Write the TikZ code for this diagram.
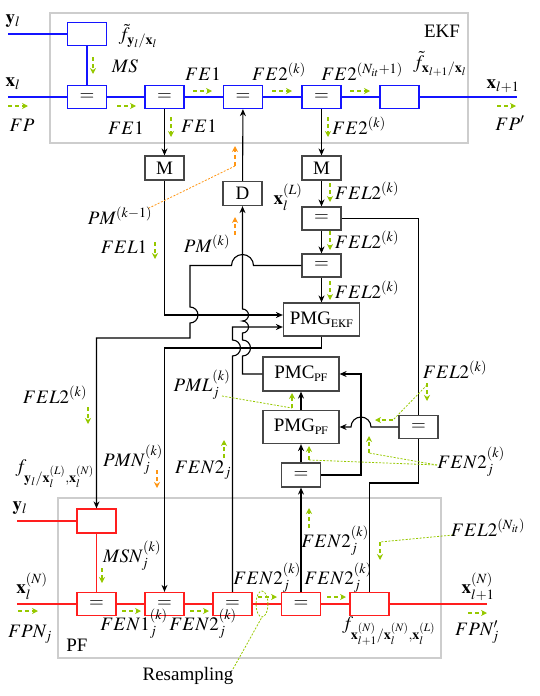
\documentclass[tikz,border=0pt]{standalone}
\usepackage{mathptmx}
\usepackage{fontspec}
\setmainfont{Liberation Serif}
\usetikzlibrary{arrows.meta}

\definecolor{msggreen}{RGB}{150,200,0}
\definecolor{msgorange}{RGB}{255,150,20}
\definecolor{framegray}{RGB}{205,205,205}
\definecolor{boxgray}{RGB}{70,70,70}
\definecolor{ekfblue}{RGB}{20,20,255}
\definecolor{pfred}{RGB}{255,30,30}

\tikzset{
  ekfbox/.style={draw=ekfblue,line width=1.3pt,minimum width=39pt,minimum height=23pt,inner sep=0pt},
  pfbox/.style={draw=pfred,line width=1.3pt,minimum width=39pt,minimum height=23pt,inner sep=0pt},
  fgbox/.style={draw=boxgray,line width=1.2pt,minimum width=39pt,minimum height=24pt,inner sep=0pt},
  pmbox/.style={draw=boxgray,line width=1.2pt,minimum width=76pt,minimum height=33pt,inner sep=0pt},
  frame/.style={draw=framegray,line width=2.8pt},
  wire/.style={line width=1.1pt},
  ekfwire/.style={draw=ekfblue,line width=1.5pt},
  pfwire/.style={draw=pfred,line width=1.5pt},
  flow/.style={wire,-{Stealth[length=7pt,width=6pt]}},
  gmsg/.style={draw=msggreen,line width=1.3pt,dash pattern=on 4pt off 3pt,-{Stealth[length=6pt,width=6pt]}},
  omsg/.style={draw=msgorange,line width=1.3pt,dash pattern=on 4pt off 3pt,-{Stealth[length=6pt,width=6pt]}},
  gdot/.style={draw=msggreen,line width=0.8pt,dash pattern=on 2pt off 1.5pt},
  odot/.style={draw=msgorange,line width=0.8pt,dash pattern=on 2pt off 1.5pt},
  lbl/.style={inner sep=0pt}
}

\begin{document}
\begin{tikzpicture}[x=1pt,y=-1pt,font=\fontsize{19}{22}\selectfont]
\useasboundingbox (0,0) rectangle (539,696);
\draw[frame] (50,13) rectangle (468,143);
\draw[frame] (58,498) rectangle (441,658);

% EKF part
\node[ekfbox] (fy) at (87,34) {};
\node[ekfbox] (e1) at (87,97) {$=$};
\node[ekfbox] (e2) at (164.5,97) {$=$};
\node[ekfbox] (e3) at (243,97) {$=$};
\node[ekfbox] (e4) at (321.5,97) {$=$};
\node[ekfbox] (fx) at (399.5,97) {};

\node[fgbox] (m1) at (164.5,168) {M};
\node[fgbox] (d) at (242.5,193.5) {D};
\node[fgbox] (m2) at (321.5,168) {M};
\node[fgbox,minimum height=23pt] (e5) at (321.5,218.5) {$=$};
\node[fgbox,minimum height=23pt] (e6) at (321.5,265.5) {$=$};
\node[pmbox] (pmgekf) at (321.5,319.5) {PMG$_{\mathrm{\scriptscriptstyle EKF}}$};
\node[fgbox,minimum height=23pt] (e7) at (418.5,427) {$=$};
\node[pmbox,minimum height=34pt] (pmcpf) at (301,374) {PMC$_{\mathrm{\scriptscriptstyle PF}}$};
\node[pmbox] (pmgpf) at (301,427) {PMG$_{\mathrm{\scriptscriptstyle PF}}$};
\node[fgbox] (e8) at (301,475) {$=$};

% PF part
\node[pfbox,minimum height=24pt] (fyn) at (96.5,521) {};
\node[pfbox] (n1) at (96.5,604) {$=$};
\node[pfbox] (n2) at (164.5,604) {$=$};
\node[pfbox] (n3) at (232.5,604) {$=$};
\node[pfbox] (n4) at (301,604) {$=$};
\node[pfbox] (fxn) at (369.5,604) {};

% variable edges
\draw[ekfwire] (8,34) -- (fy.west);
\draw[ekfwire] (fy.south) -- (e1.north);
\draw[ekfwire] (8,97) -- (e1.west);
\draw[ekfwire] (e1.east) -- (e2.west);
\draw[ekfwire] (e2.east) -- (e3.west);
\draw[ekfwire] (e3.east) -- (e4.west);
\draw[ekfwire] (e4.east) -- (fx.west);
\draw[ekfwire] (fx.east) -- (517,97);
\draw[pfwire] (17,521) -- (fyn.west);
\draw[pfwire] (fyn.south) -- (n1.north);
\draw[pfwire] (17,604) -- (n1.west);
\draw[pfwire] (n1.east) -- (n2.west);
\draw[pfwire] (n2.east) -- (n3.west);
\draw[pfwire] (n3.east) -- (n4.west);
\draw[pfwire] (n4.east) -- (fxn.west);
\draw[pfwire] (fxn.east) -- (487,604);

% message passing wires
\draw[flow] (e2) -- (m1);
\draw[flow] (d) -- (e3);
\draw[flow] (e4) -- (m2);
\draw[flow] (m2) -- (e5);
\draw[flow] (e5) -- (e6);
\draw[flow] (e6) -- (pmgekf);
\draw[flow] (m1.south) -- (164.5,315) -- ([yshift=4.5pt]pmgekf.west);
\draw[flow] (e6.west) -- (253.5,265.5) arc (0:-180:11) -- (190,265.5) -- (190,307) arc (-90:90:8) -- (190,338) -- (96.5,338) -- (fyn.north);
\draw[flow] (n3.north) -- (232.5,356) arc (90:-90:8) -- (232.5,327) -- ([yshift=-7.5pt]pmgekf.west);
\draw[flow] (pmcpf.west) -- (242.5,374) -- (242.5,356) arc (90:-90:8) -- (242.5,333) arc (90:-90:6) -- (242.5,321) arc (90:-90:6) -- (d.south);
\draw[flow] (pmgekf.south) -- (321.5,348) -- (164.5,348) -- (n2.north);
\draw[wire] (e5.east) -- (418.5,218.5) -- (e7.north);
\draw[wire] (e7.south) -- (418.5,483) -- (369.5,483) -- (fxn.north);
\draw[flow] (e7.west) -- (371,427) arc (0:-180:10) -- (pmgpf.east);
\draw[flow] (e8.east) -- (361,475) -- (361,374) -- (pmcpf.east);
\draw[flow] (n4) -- (e8);
\draw[flow] (e8) -- (pmgpf);
\draw[flow] (pmgpf) -- (pmcpf);

% forward / backward messages
\draw[gmsg] (8,106) -- (28,106);
\draw[gmsg] (93,57) -- (93,74);
\draw[gmsg] (117,106) -- (136,106);
\draw[gmsg] (171,117) -- (171,137);
\draw[gmsg] (193,91) -- (212,91);
\draw[gmsg] (272,91) -- (292,91);
\draw[gmsg] (328,117) -- (328,137);
\draw[gmsg] (350,91) -- (370,91);
\draw[gmsg] (497,106) -- (516,106);
\draw[gmsg] (155,242) -- (155,259);
\draw[gmsg] (330,183) -- (330,202);
\draw[gmsg] (330,231) -- (330,250);
\draw[gmsg] (330,281) -- (330,300);
\draw[gmsg] (88,407) -- (88,424);
\draw[gmsg] (224,458) -- (224,440);
\draw[gmsg] (427,383) -- (427,401);
\draw[gdot] (427,385) -- (393,420);
\draw[gmsg] (393,420) -- (375,420);
\draw[gdot] (437,465) -- (309,460);
\draw[gmsg] (309,460) -- (309,446);
\draw[gdot] (437,465) -- (369,453);
\draw[gmsg] (369,453) -- (369,436);
\draw[gdot] (222,396) -- (292,408);
\draw[gmsg] (292,408) -- (292,393);
\draw[gmsg] (102,568) -- (102,583);
\draw[gmsg] (18,611) -- (38,611);
\draw[gmsg] (122,611) -- (141,611);
\draw[gmsg] (190,611) -- (209,611);
\draw[gmsg] (258,597) -- (277,597);
\draw[gdot] (262,604) ellipse (6 and 13);
\draw[gdot] (233,669) -- (262,617);
\draw[gmsg] (309,528) -- (309,508);
\draw[gmsg] (327,597) -- (346,597);
\draw[gdot] (453,535) -- (380,542);
\draw[gmsg] (380,542) -- (380,560);
\draw[gmsg] (468,613) -- (487,613);
\draw[omsg] (235,166) -- (235,146);
\draw[odot] (235,166) -- (147,209);
\draw[omsg] (235,235) -- (235,217);
\draw[omsg] (157,470) -- (157,488);

% labels
\node[lbl] (l_ekf) at (442,31) {EKF};
\node[lbl] (l_pf) at (77,645) {PF};
\node[lbl] (l_res) at (188,676) {Resampling};
\node[lbl] (l_y) at (13,21) {$\mathbf{y}_l$};
\node[lbl] (l_x) at (13,84) {$\mathbf{x}_l$};
\node[lbl] (l_fp) at (22,125) {$FP$};
\node[lbl] (l_fy) at (138,36) {$\tilde{f}_{\mathbf{y}_l/\mathbf{x}_l}$};
\node[lbl] (l_ms) at (125,66) {$MS$};
\node[lbl] (l_fe1a) at (126,128) {$FE1$};
\node[lbl] (l_fe1b) at (199,126) {$FE1$};
\node[lbl] (l_fe1c) at (203,74) {$FE1$};
\node[lbl] (l_fe2a) at (279,72) {$FE2^{(k)}$};
\node[lbl] (l_fe2b) at (362,72) {$FE2^{(N_{it}+1)}$};
\node[lbl] (l_fx) at (440,64) {$\tilde{f}_{\mathbf{x}_{l+1}/\mathbf{x}_l}$};
\node[lbl] (l_xn) at (503,86) {$\mathbf{x}_{l+1}$};
\node[lbl] (l_fpp) at (510,123) {$FP'$};
\node[lbl] (l_fe2c) at (359,126) {$FE2^{(k)}$};
\node[lbl] (l_pmk1) at (120,216) {$PM^{(k-1)}$};
\node[lbl] (l_fel1) at (124,247) {$FEL1$};
\node[lbl] (l_pmk) at (207,244) {$PM^{(k)}$};
\node[lbl] (l_xl) at (288,197) {$\mathbf{x}_l^{(L)}$};
\node[lbl] (l_fel2a) at (367,191) {$FEL2^{(k)}$};
\node[lbl] (l_fel2b) at (367,240) {$FEL2^{(k)}$};
\node[lbl] (l_fel2c) at (367,290) {$FEL2^{(k)}$};
\node[lbl] (l_fel2d) at (55,395) {$FEL2^{(k)}$};
\node[lbl] (l_pml) at (202,385) {$PML_j^{(k)}$};
\node[lbl] (l_pmn) at (133,460) {$PMN_j^{(k)}$};
\node[lbl] (l_fen2a) at (203,470) {$FEN2_j$};
\node[lbl] (l_fyn) at (55,474) {$f_{\mathbf{y}_l/\mathbf{x}_l^{(L)},\mathbf{x}_l^{(N)}}$};
\node[lbl] (l_fel2e) at (455,370) {$FEL2^{(k)}$};
\node[lbl] (l_fen2b) at (471,462) {$FEN2_j^{(k)}$};
\node[lbl] (l_yn) at (20,508) {$\mathbf{y}_l$};
\node[lbl] (l_msn) at (132,556) {$MSN_j^{(k)}$};
\node[lbl] (l_xln) at (32,586) {$\mathbf{x}_l^{(N)}$};
\node[lbl] (l_fpn) at (30,634) {$FPN_j$};
\node[lbl] (l_fen1) at (134,624) {$FEN1_j^{(k)}$};
\node[lbl] (l_fen2c) at (203,624) {$FEN2_j^{(k)}$};
\node[lbl] (l_fen2d) at (267,578) {$FEN2_j^{(k)}$};
\node[lbl] (l_fen2e) at (338,578) {$FEN2_j^{(k)}$};
\node[lbl] (l_fen2f) at (335,541) {$FEN2_j^{(k)}$};
\node[lbl] (l_feln) at (488,528) {$FEL2^{(N_{it})}$};
\node[lbl] (l_xnn) at (478,587) {$\mathbf{x}_{l+1}^{(N)}$};
\node[lbl] (l_fpnp) at (477,632) {$FPN'_j$};
\node[lbl] (l_fxn) at (389,631) {$f_{\mathbf{x}_{l+1}^{(N)}/\mathbf{x}_l^{(N)},\mathbf{x}_l^{(L)}}$};
\end{tikzpicture}
\end{document}
